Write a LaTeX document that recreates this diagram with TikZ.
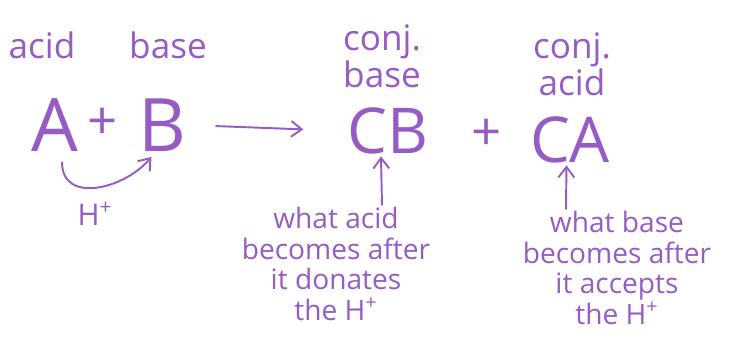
\documentclass[tikz,border=0pt]{standalone}
\usepackage{fontspec}
\setmainfont{Open Sans}
\usetikzlibrary{positioning, arrows.meta}
\definecolor{pencil}{RGB}{150,92,196}
\tikzset{
	>={Straight Barb[length=6pt, width=9pt]}, % puntas de flecha abiertas
	every node/.style={text=pencil, inner sep=1pt}, % color del texto
	label/.style={font=\fontsize{20}{21}\selectfont, align=center}, % acido / base
	species/.style={font=\fontsize{42}{44}\selectfont}, % A, B
	conj/.style={font=\fontsize{36}{38}\selectfont}, % CB, CA
	sign/.style={font=\fontsize{30}{32}\selectfont}, % signos +
	note/.style={font=\fontsize{16}{17.5}\selectfont, align=center}, % notas de abajo
	pen/.style={draw=pencil, line width=1.1pt, line cap=round} % trazo del lapiz
}

\begin{document}
\begin{tikzpicture}[x=0.02cm, y=-0.02cm]
			\useasboundingbox (0,0) rectangle (745,342);
			\node[label] (acid) at (42,45) {acid};
			\node[label] (base) at (168,45) {base};
			\node[species] (A) at (55,125) {A};
			\node[sign] (plus1) at (103,124) {+};
			\node[species] (B) at (162,125) {B};
			\node[label] (cbase) at (382,56) {conj.\\base};
			\node[conj] (CB) at (388,131) {CB};
			\node[sign] (plus2) at (487,135) {+};
			\node[conj] (CA) at (570,140) {CA};
			\node[label] (cacid) at (572,64) {conj.\\acid};
			\node[note] (whatacid) at (336,264) {what acid\\becomes after\\it donates\\the H\textsuperscript{+}};
			\node[note] (whatbase) at (617,268) {what base\\becomes after\\it accepts\\the H\textsuperscript{+}};
			\node[note, font=\fontsize{17}{18}\selectfont] (proton) at (95,214) {H\textsuperscript{+}};
			\draw[pen, ->] (B.east) -- (CB.west) [shorten <=16pt, shorten >=24pt];
			\draw[pen, ->] ([xshift=4pt, yshift=-5pt]A.south) to[out=-90, in=-130, looseness=1.2] ([xshift=-6pt, yshift=-2pt]B.south);
			\draw[pen, ->] (whatacid.north -| CB) ++(-6,0) -- ([xshift=-4pt]CB.south);
			\draw[pen, ->] (whatbase.north -| CA) ++(-4,0) -- ([xshift=-2pt]CA.south);
\end{tikzpicture}
\end{document}
